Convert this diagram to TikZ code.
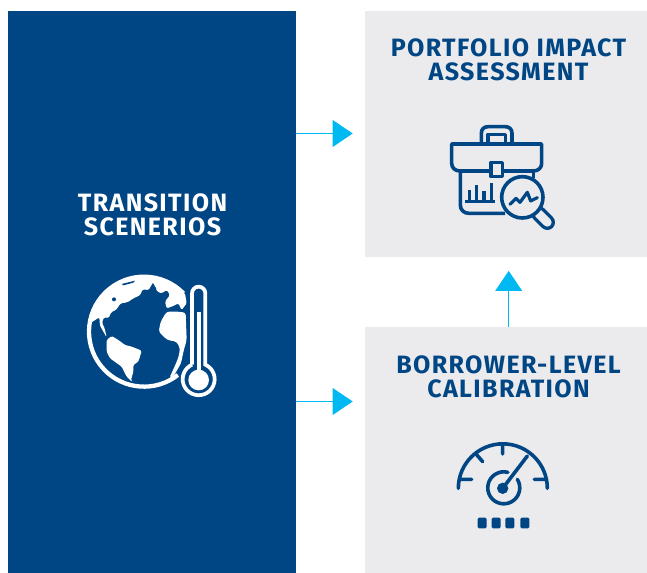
\documentclass[tikz,border=0pt]{standalone}
\usepackage{fontspec}
\usetikzlibrary{arrows.meta,calc}
\setmainfont{Fira Sans}[LetterSpace=5.5]
\definecolor{navy}{HTML}{004684}
\definecolor{panel}{HTML}{EBEBEE}
\definecolor{cyanarrow}{HTML}{00B9F2}
\tikzset{
  bluebox/.style={fill=navy,draw=none,minimum width=216pt,minimum height=421.5pt,inner sep=0pt},
  greybox/.style={fill=panel,draw=none,minimum width=211.5pt,minimum height=184.5pt,inner sep=0pt},
  title/.style={font=\fontsize{18.8pt}{18pt}\selectfont\bfseries,align=center,inner sep=0pt},
  conn/.style={draw=cyanarrow,line width=0.9pt,-{Triangle[length=15pt,width=20pt,fill=cyanarrow]}},
  icon/.style={draw=navy,line width=2.7pt,line join=round},
  iconline/.style={icon,line cap=round},
}
\begin{document}
\begin{tikzpicture}[x=0.75pt,y=-0.75pt]
\useasboundingbox (0,0) rectangle (647,573);
\node[bluebox] (scen) at (152,292) {};
\node[greybox] (port) at (506,134) {};
\node[greybox] (borr) at (506,450) {};
\node[title,text=white] (scentxt) at (152.5,215) {TRANSITION\\SCENERIOS};
\node[title,text=navy] (porttxt) at (508.5,60) {PORTFOLIO IMPACT\\ASSESSMENT};
\node[title,text=navy] (borrtxt) at (508.5,377) {BORROWER-LEVEL\\CALIBRATION};
% connectors
\coordinate (ya) at (0,133.5);
\coordinate (yb) at (0,401.5);
\coordinate (xc) at (508.7,0);
\draw[conn,shorten >=9pt] (scen.east |- ya) -- (port.west |- ya);
\draw[conn,shorten >=9pt] (scen.east |- yb) -- (borr.west |- yb);
\draw[conn,shorten >=10.2pt] (xc |- borr.north) -- (xc |- port.south);
% globe and thermometer
\begin{scope}[shift={(70,260)},x=0.25pt,y=-0.25pt]
  \draw[white,line width=3.2pt] (222,215) ++(-44:165) arc[start angle=-44,end angle=-308,radius=165];
  \fill[white,rounded corners=1pt] (60,190) -- (88,172) -- (90,197) -- (100,215) -- (110,232) -- (104,205) -- (96,188) -- (102,172) -- (116,174) -- (124,156) -- (138,150) -- (152,130) -- (172,127) -- (192,114) -- (210,106) -- (218,88) -- (236,90) -- (252,62) -- (240,48) -- (200,48) -- (160,60) -- (120,85) -- (85,125) -- cycle;
  \fill[navy] (132,118) circle[radius=6];
  \fill[navy] (155,72) -- (195,62) -- (190,68) -- (160,76) -- cycle;
  \fill[white,rounded corners=1pt] (205,47) -- (250,50) -- (300,70) -- (345,100) -- (350,130) -- (335,150) -- (325,130) -- (310,138) -- (290,145) -- (285,125) -- (300,105) -- (290,90) -- (275,100) -- (262,95) -- (250,68) -- (215,70) -- cycle;
  \fill[navy] (255,85) circle[radius=4];
  \fill[white,rounded corners=2pt] (266,215) -- (272,185) -- (290,155) -- (325,155) -- (347,158) -- (350,240) -- (341,272) -- (333,310) -- (310,350) -- (298,354) -- (316,315) -- (326,290) -- (330,265) -- (320,245) -- (292,240) -- cycle;
  \fill[white,rounded corners=1pt] (110,240) -- (125,228) -- (145,240) -- (165,255) -- (185,260) -- (215,272) -- (210,290) -- (205,305) -- (190,315) -- (190,335) -- (183,360) -- (188,367) -- (170,350) -- (155,320) -- (120,295) -- (110,275) -- cycle;
  \draw[white,line width=2.8pt] (366,314) -- (366,100) arc[start angle=180,end angle=360,radius=20] -- (406,314) arc[start angle=-65.4,end angle=245.4,radius=48];
  \fill[white] (386,360) circle[radius=31];
  \fill[white] (381,155) rectangle (393,340);
\end{scope}
% briefcase
\begin{scope}[shift={(430,115)},x=0.25pt,y=-0.25pt]
  \draw[icon] (178,168) -- (90,168) .. controls (75,168) and (65,158) .. (65,145) -- (65,87) -- (335,87) -- (335,145) .. controls (335,158) and (325,168) .. (310,168) -- (222,168);
  \draw[icon] (183,143) rectangle (217,185);
  \draw[icon] (154,85) -- (154,55) .. controls (154,42) and (162,35) .. (175,35) -- (225,35) .. controls (238,35) and (246,42) .. (246,55) -- (246,85);
  \draw[icon] (174,85) -- (174,58) -- (226,58) -- (226,85);
  \draw[icon] (91,168) -- (91,270) .. controls (91,285) and (102,295) .. (117,295) -- (225,295);
  \draw[icon] (310,168) -- (310,190);
  \draw[icon,line width=2.4pt] (105,260) -- (196,260);
  \draw[icon,line width=2.4pt] (118,260) -- (118,225) (140,260) -- (140,210) (162,260) -- (162,228) (184,260) -- (184,205);
  \draw[iconline,line width=11.5pt] (326,296) -- (352,322);
  \draw[panel,line width=6.5pt,line cap=round] (326,296) -- (352,322);
  \fill[panel] (277,247) circle[radius=60];
  \draw[icon] (277,247) circle[radius=62];
  \draw[iconline,line width=2.4pt] (240,268) -- (258,250) -- (270,262) -- (292,232) -- (302,258) -- (322,248);
\end{scope}
% gauge
\begin{scope}[shift={(440,430)},x=0.25pt,y=-0.25pt]
  \draw[iconline] (55,175) arc[start angle=180,end angle=360,radius=133.5];
  \draw[iconline] (60,148) -- (95,148) (108,72) -- (128,95) (188,42) -- (188,72) (316,148) -- (283,148);
  \draw[iconline] (232,148) arc[start angle=-32,end angle=285,radius=48];
  \draw[iconline,line width=2.7pt] (188,175) -- (262,78);
  \fill[navy] (188,175) circle[radius=17];
  \foreach \xa in {113,155,196,241}
    \fill[navy,rounded corners=1pt] (\xa,263) rectangle ++(27,32);
\end{scope}
\end{tikzpicture}
\end{document}
